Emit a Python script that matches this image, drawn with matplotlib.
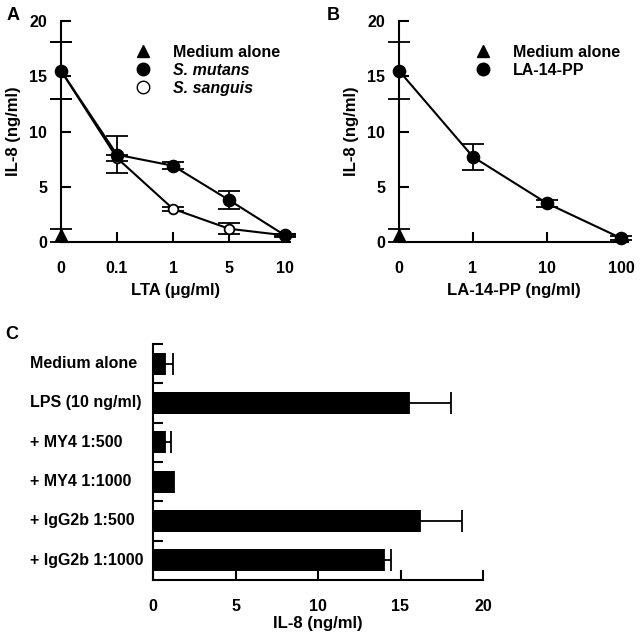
import matplotlib
matplotlib.use("Agg")
import matplotlib.pyplot as plt
import matplotlib.transforms as mtransforms
from matplotlib.lines import Line2D

plt.rcParams["font.family"] = ["Liberation Sans", "DejaVu Sans"]
plt.rcParams["font.weight"] = "bold"
plt.rcParams["axes.labelweight"] = "bold"
plt.rcParams["font.size"] = 11

# -----------------------------
# Data
# -----------------------------
lta_labels = ["0", "0.1", "1", "5", "10"]
mutans = [15.5, 7.9, 6.9, 3.8, 0.6]
mutans_err = [2.6, 1.65, 0.3, 0.85, 0.15]
sanguis = [15.5, 7.6, 3.0, 1.2, 0.6]
sanguis_err = [2.6, 0.3, 0.2, 0.5, 0.1]
medium_val = 0.6
medium_err = 0.6

lapp_labels = ["0", "1", "10", "100"]
lapp = [15.5, 7.7, 3.5, 0.35]
lapp_err = [2.6, 1.2, 0.3, 0.15]

bar_labels = ["Medium alone", "LPS (10 ng/ml)", "+ MY4 1:500",
              "+ MY4 1:1000", "+ IgG2b 1:500", "+ IgG2b 1:1000"]
bar_vals = [0.75, 15.5, 0.75, 1.2, 16.2, 14.0]
bar_err = [0.45, 2.55, 0.32, 0.1, 2.5, 0.45]

W, H = 641, 643
fig = plt.figure(figsize=(W / 100, H / 100), dpi=100)


def px_axes(left, top, right, bottom):
    return fig.add_axes([left / W, 1 - bottom / H, (right - left) / W, (bottom - top) / H])


def style_axes(ax):
    for s in ["top", "right"]:
        ax.spines[s].set_visible(False)
    for s in ["left", "bottom"]:
        ax.spines[s].set_linewidth(1.5)
    ax.tick_params(direction="in", length=7, width=1.5, labelsize=11.5)


def line_panel(ax, labels, series, xlim):
    style_axes(ax)
    x = list(range(len(labels)))
    for vals, errs, face, ms in series:
        ax.errorbar(x, vals, yerr=errs, color="black", lw=1.5, capsize=8,
                    capthick=1.3, elinewidth=1.3, marker="o", ms=ms,
                    mfc=face, mec="black", mew=1.3, clip_on=False, zorder=3)
    ax.errorbar([0], [medium_val], yerr=[medium_err], color="black", marker="^",
                ms=8.5, ls="none", capsize=8, capthick=1.3, elinewidth=1.3,
                clip_on=False, zorder=4)
    ax.set_xlim(*xlim)
    ax.set_ylim(0, 20)
    ax.set_xticks(x)
    ax.set_xticklabels(labels)
    ax.set_yticks([0, 5, 10, 15, 20])
    ax.tick_params(axis="x", pad=14)
    ax.tick_params(axis="y", pad=10)
    ax.set_ylabel("IL-8 (ng/ml)", fontsize=12, labelpad=6)


legend_kw = dict(loc="upper left", bbox_transform=fig.transFigure, frameon=False,
                 fontsize=11.5, handlelength=1, handletextpad=1.4,
                 labelspacing=0.18, borderpad=0, borderaxespad=0)

# -----------------------------
# Panel A
# -----------------------------
axA = px_axes(61, 21, 290, 242)
line_panel(axA, lta_labels,
           [(sanguis, sanguis_err, "white", 7), (mutans, mutans_err, "black", 8.5)],
           (0, 229 / 56))
axA.set_xlabel("LTA (\u03bcg/ml)", fontsize=12, labelpad=5)
hA = [Line2D([], [], color="black", marker="^", ls="none", ms=9),
      Line2D([], [], color="black", marker="o", ls="none", ms=9),
      Line2D([], [], color="black", marker="o", mfc="white", ls="none", ms=9, mew=1)]
legA = axA.legend(hA, ["Medium alone", "S. mutans", "S. sanguis"],
                  bbox_to_anchor=(135 / W, 1 - 45 / H), **legend_kw)
for t in legA.get_texts()[1:]:
    t.set_style("italic")

# -----------------------------
# Panel B
# -----------------------------
axB = px_axes(399, 21, 628, 242)
line_panel(axB, lapp_labels, [(lapp, lapp_err, "black", 8.5)], (0, 229 / 74))
axB.set_xlabel("LA-14-PP (ng/ml)", fontsize=12, labelpad=5)
hB = [Line2D([], [], color="black", marker="^", ls="none", ms=9),
      Line2D([], [], color="black", marker="o", ls="none", ms=9)]
axB.legend(hB, ["Medium alone", "LA-14-PP"],
           bbox_to_anchor=(475 / W, 1 - 45 / H), **legend_kw)

# -----------------------------
# Panel C
# -----------------------------
axC = px_axes(153, 344, 483, 580)
style_axes(axC)
yc = list(range(len(bar_labels)))
axC.barh(yc, bar_vals, height=0.56, color="black")
axC.errorbar(bar_vals, yc, xerr=[[0] * len(bar_vals), bar_err], ls="none",
             color="black", elinewidth=1.3, capsize=8, capthick=1.3)
axC.set_xlim(0, 20)
axC.set_ylim(len(bar_labels) - 0.5, -0.5)
axC.set_xticks([0, 5, 10, 15, 20])
axC.set_yticks([k - 0.5 for k in range(len(bar_labels))])
axC.set_yticklabels([])
axC.tick_params(axis="x", pad=14)
trans = mtransforms.blended_transform_factory(fig.transFigure, axC.transData)
for k, lab in enumerate(bar_labels):
    axC.text(30 / W, yc[k], lab, transform=trans, fontsize=11.5,
             ha="left", va="center")
axC.set_xlabel("IL-8 (ng/ml)", fontsize=12, labelpad=1)

# panel letters
fig.text(13 / W, 1 - 15 / H, "A", fontsize=13, ha="center", va="center")
fig.text(333 / W, 1 - 15 / H, "B", fontsize=13, ha="center", va="center")
fig.text(12 / W, 1 - 334 / H, "C", fontsize=13, ha="center", va="center")

fig.savefig("out.png", dpi=100)
